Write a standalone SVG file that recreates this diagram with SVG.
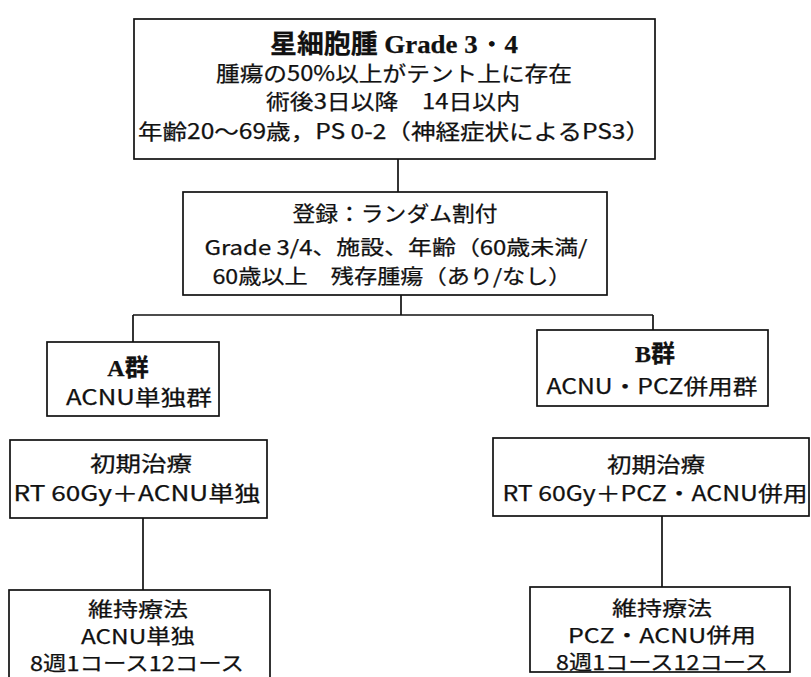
<svg xmlns="http://www.w3.org/2000/svg" width="811" height="677" viewBox="0 0 811 677">
<style>
.box{fill:#fff;stroke:#111;stroke-width:1.7}
.ln{stroke:#111;stroke-width:1.7;fill:none}
text{font-family:"Noto Sans CJK JP","Liberation Sans",sans-serif;font-size:21px;fill:#111;stroke:#111;stroke-width:0.25;text-anchor:middle}
.big{font-size:26px}
.grp{font-size:24px}
.bot{font-size:20px}
.b{font-weight:bold}
.s{font-family:"Liberation Serif",serif;font-weight:bold}
</style>
<rect width="811" height="677" fill="#fff"/>
<g id="connectors">
<line class="ln" x1="398" y1="159" x2="398" y2="192"/>
<line class="ln" x1="401" y1="295" x2="401" y2="315"/>
<line class="ln" x1="133" y1="315" x2="653" y2="315"/>
<line class="ln" x1="133" y1="315" x2="133" y2="342"/>
<line class="ln" x1="653" y1="315" x2="653" y2="330"/>
<line class="ln" x1="143" y1="518" x2="143" y2="590"/>
<line class="ln" x1="662" y1="516" x2="662" y2="587"/>
</g>
<g id="eligibility">
<rect class="box" x="134" y="19" width="521" height="140"/>
<text class="big" x="394" y="53" textLength="248" lengthAdjust="spacingAndGlyphs"><tspan class="b">星細胞腫</tspan><tspan class="s"> Grade 3・4</tspan></text>
<text x="394" y="81" textLength="356" lengthAdjust="spacingAndGlyphs">腫瘍の50%以上がテント上に存在</text>
<text x="393" y="109" textLength="254" lengthAdjust="spacingAndGlyphs">術後3日以降　14日以内</text>
<text x="394" y="139" textLength="512" lengthAdjust="spacingAndGlyphs">年齢20〜69歳，PS 0-2（神経症状によるPS3）</text>
</g>
<g id="registration">
<rect class="box" x="183" y="192" width="424" height="103"/>
<text x="395" y="221" textLength="205" lengthAdjust="spacingAndGlyphs">登録：ランダム割付</text>
<text class="bot" x="396" y="255" textLength="383" lengthAdjust="spacingAndGlyphs">Grade 3/4、施設、年齢（60歳未満/</text>
<text class="bot" x="392" y="284" textLength="359" lengthAdjust="spacingAndGlyphs">60歳以上　残存腫瘍（あり/なし）</text>
</g>
<g id="groupA">
<rect class="box" x="47" y="342" width="172" height="74"/>
<text class="grp" x="128" y="376"><tspan class="s">A</tspan><tspan class="b">群</tspan></text>
<text x="139" y="405" textLength="146" lengthAdjust="spacingAndGlyphs">ACNU単独群</text>
</g>
<g id="groupB">
<rect class="box" x="537" y="330" width="231" height="76"/>
<text class="grp" x="655" y="362"><tspan class="s">B</tspan><tspan class="b">群</tspan></text>
<text x="652" y="394" textLength="211" lengthAdjust="spacingAndGlyphs">ACNU・PCZ併用群</text>
</g>
<g id="initialA">
<rect class="box" x="10" y="440" width="257" height="78"/>
<text x="141" y="471" textLength="102" lengthAdjust="spacingAndGlyphs">初期治療</text>
<text x="137" y="501" textLength="247" lengthAdjust="spacingAndGlyphs">RT 60Gy＋ACNU単独</text>
</g>
<g id="initialB">
<rect class="box" x="493" y="438" width="316" height="78"/>
<text x="656" y="472" textLength="98" lengthAdjust="spacingAndGlyphs">初期治療</text>
<text x="655" y="501" textLength="305" lengthAdjust="spacingAndGlyphs">RT 60Gy＋PCZ・ACNU併用</text>
</g>
<g id="maintA">
<rect class="box" x="9" y="590" width="261" height="95"/>
<text class="bot" x="138" y="617" textLength="100" lengthAdjust="spacingAndGlyphs">維持療法</text>
<text class="bot" x="138" y="644" textLength="114" lengthAdjust="spacingAndGlyphs">ACNU単独</text>
<text class="bot" x="137" y="671" textLength="214" lengthAdjust="spacingAndGlyphs">8週1コース12コース</text>
</g>
<g id="maintB">
<rect class="box" x="530" y="587" width="260" height="85"/>
<text class="bot" x="662" y="616" textLength="100" lengthAdjust="spacingAndGlyphs">維持療法</text>
<text class="bot" x="662" y="643" textLength="188" lengthAdjust="spacingAndGlyphs">PCZ・ACNU併用</text>
<text class="bot" x="662" y="670" textLength="212" lengthAdjust="spacingAndGlyphs">8週1コース12コース</text>
</g>
</svg>
